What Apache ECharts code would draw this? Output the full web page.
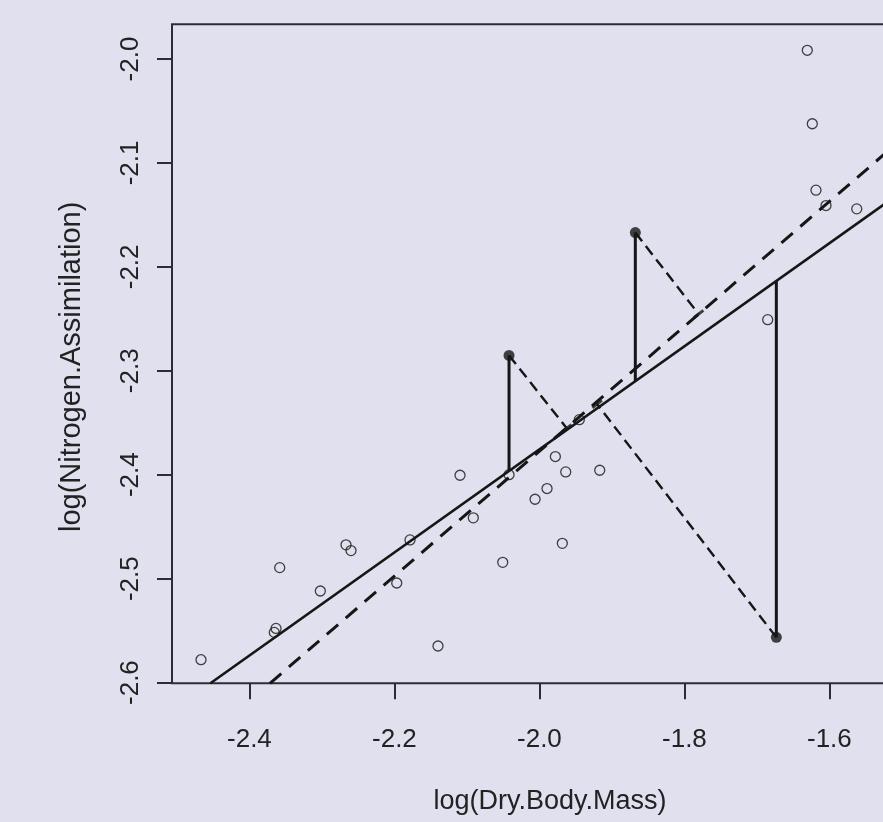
<!DOCTYPE html>
<html lang="en">
<head>
<meta charset="UTF-8">
<title>Regression residuals</title>
<script src="https://cdn.jsdelivr.net/npm/echarts@6/dist/echarts.min.js"></script>
<style>
  html, body { margin: 0; padding: 0; background: #e0e0ee; }
  #chart { width: 883px; height: 822px; }
</style>
</head>
<body>
<div id="chart"></div>
<script>
// tick labels
var xTicks = [-2.4, -2.2, -2.0, -1.8, -1.6];
var yTicks = [-2.6, -2.5, -2.4, -2.3, -2.2, -2.1, -2.0];

// open points
var openX = [-1.6305, -1.6236, -1.6185, -1.6047, -1.5623, -1.6851, -2.1095, -2.0912, -2.0506,
             -2.1399, -2.1785, -2.1968, -2.2668, -2.2599, -2.3582, -2.3022, -2.3633, -2.3657,
             -2.4668, -1.9780, -1.9637, -1.9168, -1.9895, -2.0060, -1.9684, -2.0419, -1.9450];
var openY = [-1.9916, -2.0623, -2.1262, -2.1410, -2.1442, -2.2508, -2.4005, -2.4415, -2.4843,
             -2.5648, -2.4627, -2.5042, -2.4675, -2.4730, -2.4894, -2.5119, -2.5479, -2.5517,
             -2.5780, -2.3825, -2.3973, -2.3957, -2.4133, -2.4236, -2.4660, -2.4000, -2.3470];

// the three highlighted points
var filledX = [-2.0419, -1.8677, -1.6732];
var filledY = [-2.2852, -2.1670, -2.5565];

// where the vertical residuals meet the solid line
var solidFootY = [-2.3962, -2.3098, -2.2134];
// where the dashed residuals meet the dashed line
var dashFootX = [-1.9623, -1.7804, -1.9204];
var dashFootY = [-2.3553, -2.2454, -2.3320];

// fitted lines (end points)
var solidLineX = [-2.4538, -1.4640];
var solidLineY = [-2.6007, -2.1098];
var dashLineX = [-2.3717, -1.4640];
var dashLineY = [-2.6007, -2.0554];

var ink = '#161616';

function pairs(xs, ys) {
    return xs.map(function (x, i) { return [x, ys[i]]; });
}

var series = [
    {
        type: 'line', data: pairs(solidLineX, solidLineY), symbol: 'none',
        lineStyle: { color: ink, width: 2.6 }, z: 3
    },
    {
        type: 'line', data: pairs(dashLineX, dashLineY), symbol: 'none',
        lineStyle: { color: ink, width: 3, type: [15, 10] }, z: 3
    }
];

for (var i = 0; i < filledX.length; i++) {
    series.push({
        type: 'line', symbol: 'none', z: 4,
        data: [[filledX[i], filledY[i]], [filledX[i], solidFootY[i]]],
        lineStyle: { color: ink, width: 3 }
    });
    series.push({
        type: 'line', symbol: 'none', z: 4,
        data: [[filledX[i], filledY[i]], [dashFootX[i], dashFootY[i]]],
        lineStyle: { color: ink, width: 2.4, type: [11, 6] }
    });
}

// small cross bars at the feet of the dashed residuals
series.push({
    type: 'scatter', data: pairs(dashFootX, dashFootY), symbol: 'rect',
    symbolSize: [12, 3], symbolRotate: 38, itemStyle: { color: ink }, z: 5
});

series.push({
    type: 'scatter', data: pairs(openX, openY), symbol: 'circle', symbolSize: 10,
    itemStyle: { color: 'rgba(0,0,0,0)', borderColor: ink, borderWidth: 1.3 }, z: 6
});
series.push({
    type: 'scatter', data: pairs(filledX, filledY), symbol: 'circle', symbolSize: 11,
    itemStyle: { color: ink }, z: 7
});

var labelFont = { fontFamily: 'Liberation Sans, Arial, sans-serif', fontSize: 26, color: '#222' };

var chart = echarts.init(document.getElementById('chart'));
chart.setOption({
    backgroundColor: '#e0e0ee',
    animation: false,
    grid: {
        left: 172, top: 24.3, width: 756, height: 659,
        containLabel: false, outerBoundsMode: 'none',
        show: true, borderColor: '#2c2c38', borderWidth: 2, backgroundColor: 'transparent'
    },
    xAxis: {
        type: 'value', min: -2.5068, max: -1.464,
        name: 'log(Dry.Body.Mass)', nameLocation: 'middle', nameGap: 105,
        nameTextStyle: { fontFamily: labelFont.fontFamily, fontSize: 27, color: '#222' },
        splitLine: { show: false },
        axisLine: { show: false },
        axisTick: { show: true, inside: false, length: 16, customValues: xTicks,
            lineStyle: { color: '#2c2c38', width: 2 } },
        axisLabel: Object.assign({ customValues: xTicks, margin: 44,
            formatter: function (v) { return v.toFixed(1); } }, labelFont)
    },
    yAxis: {
        type: 'value', min: -2.6007, max: -1.9666,
        name: 'log(Nitrogen.Assimilation)', nameLocation: 'middle', nameGap: 86,
        nameTextStyle: { fontFamily: labelFont.fontFamily, fontSize: 29, color: '#222',
            padding: [0, 26, 0, 0] },
        splitLine: { show: false },
        axisLine: { show: false },
        axisTick: { show: true, inside: false, length: 15, customValues: yTicks,
            lineStyle: { color: '#2c2c38', width: 2 } },
        axisLabel: Object.assign({ customValues: yTicks, margin: 28, rotate: 90,
            formatter: function (v) { return v.toFixed(1); } }, labelFont)
    },
    series: series
});
</script>
</body>
</html>
